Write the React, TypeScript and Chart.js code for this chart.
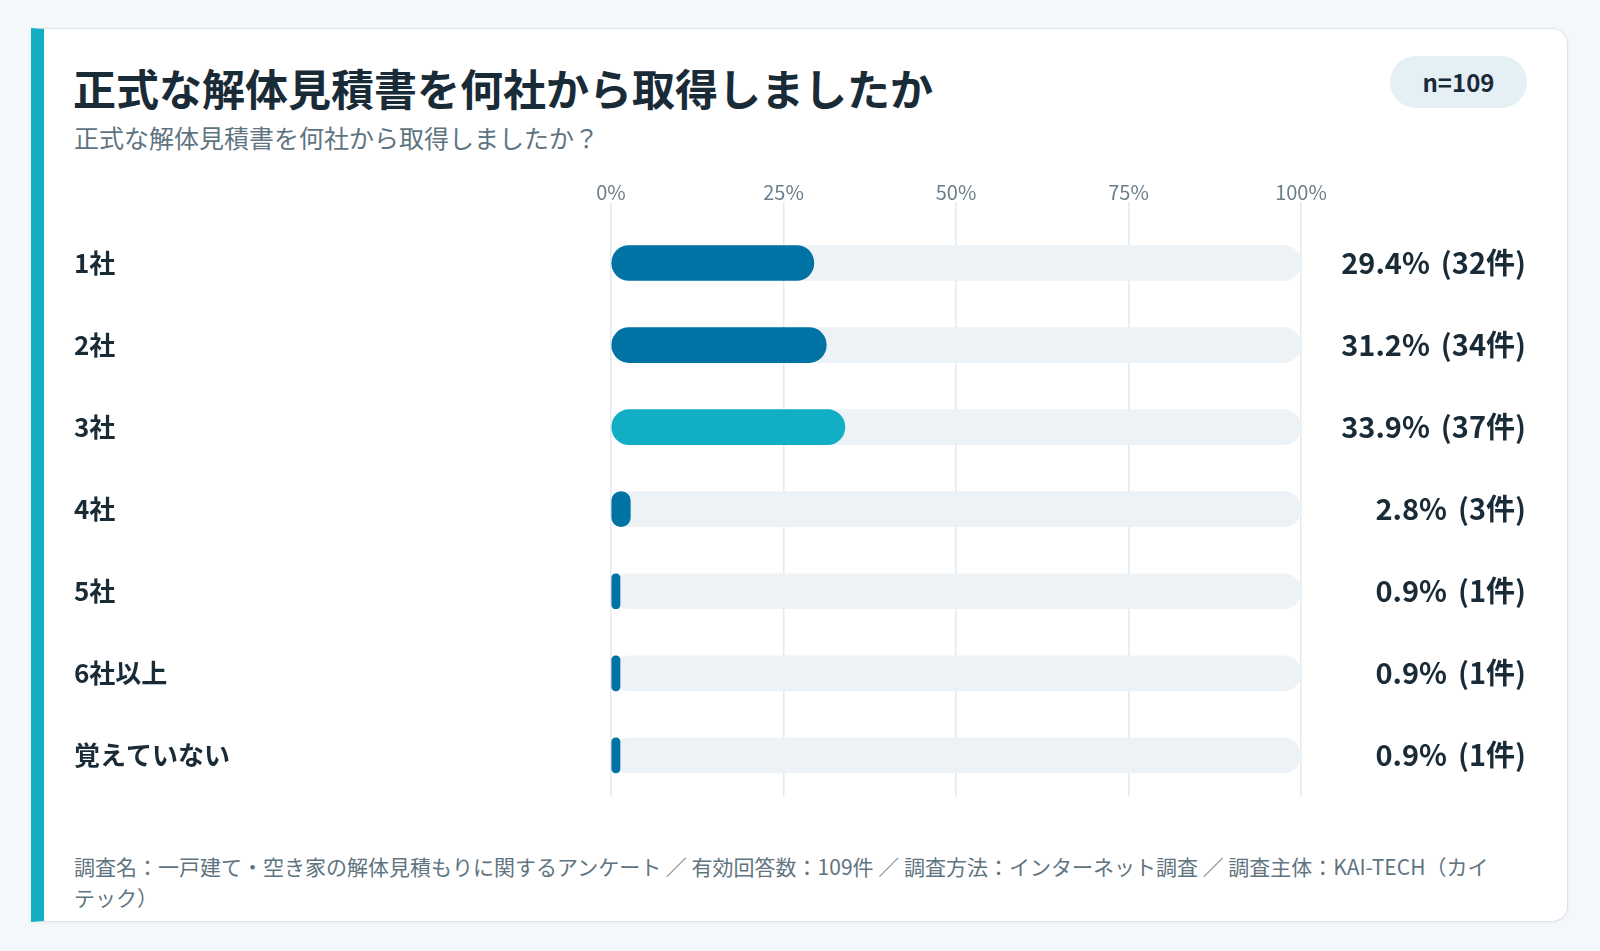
import { useEffect, useRef } from "react";
import { Chart, registerables } from "chart.js";

Chart.register(...registerables);

const categories = ["1社", "2社", "3社", "4社", "5社", "6社以上", "覚えていない"];
const percents = [29.4, 31.2, 33.9, 2.8, 0.9, 0.9, 0.9];
const counts = [32, 34, 37, 3, 1, 1, 1];
const trackValues = [100, 100, 100, 100, 100, 100, 100];
const xTicks = [0, 25, 50, 75, 100];
const total = 109;

const FONT = '"Noto Sans CJK JP", "Noto Sans", sans-serif';
const DARK = "#1a2b38";
const BLUE = "#0072a3";
const TEAL = "#12aec6";

const maxIdx = percents.indexOf(Math.max(...percents));

// draws "29.4%  (32件)" at the right edge of the canvas
const valueLabels = {
  id: "valueLabels",
  afterDatasetsDraw(chart: Chart) {
    const { ctx } = chart;
    const meta = chart.getDatasetMeta(0);
    ctx.save();
    ctx.font = `700 29px ${FONT}`;
    ctx.fillStyle = DARK;
    ctx.textAlign = "right";
    ctx.textBaseline = "middle";
    meta.data.forEach((bar, i) => {
      const countText = `(${counts[i]}件)`;
      ctx.fillText(countText, chart.width - 1, bar.y);
      const w = ctx.measureText(countText).width;
      ctx.fillText(`${percents[i].toFixed(1)}%`, chart.width - 1 - w - 11, bar.y);
    });
    ctx.restore();
  },
};

const BarChart = () => {
  const canvasRef = useRef<HTMLCanvasElement | null>(null);
  const chartRef = useRef<Chart | null>(null);

  useEffect(() => {
    if (chartRef.current) chartRef.current.destroy();
    const ctx = canvasRef.current?.getContext("2d");
    if (!ctx) return;

    chartRef.current = new Chart(ctx, {
      type: "bar",
      data: {
        labels: categories,
        datasets: [
          {
            data: percents,
            backgroundColor: percents.map((_, i) => (i === maxIdx ? TEAL : BLUE)),
            borderRadius: 18,
            borderSkipped: false,
            barThickness: 35,
            minBarLength: 9,
            grouped: false,
          },
          {
            data: trackValues,
            backgroundColor: "#edf2f6",
            borderRadius: 18,
            borderSkipped: false,
            barThickness: 35,
            grouped: false,
          },
        ],
      },
      options: {
        indexAxis: "y",
        animation: false,
        responsive: true,
        maintainAspectRatio: false,
        layout: { padding: { right: 226 } },
        plugins: { legend: { display: false }, tooltip: { enabled: false } },
        scales: {
          x: {
            position: "top",
            min: 0,
            max: 100,
            afterBuildTicks: (scale: any) => {
              scale.ticks = xTicks.map((v) => ({ value: v }));
            },
            ticks: {
              callback: (v: any) => `${v}%`,
              color: "#6b7e8b",
              font: { family: FONT, size: 20, lineHeight: 1 },
              padding: 0,
            },
            grid: { color: "#e3e9ee", lineWidth: 1.5, tickLength: 20 },
            border: { display: false },
          },
          y: {
            afterFit: (scale: any) => {
              scale.width = 537;
            },
            ticks: {
              crossAlign: "far",
              color: DARK,
              font: { family: FONT, size: 26, weight: "bold" },
            },
            grid: { display: false },
            border: { display: false },
          },
        },
      },
      plugins: [valueLabels],
    } as any);

    return () => {
      chartRef.current?.destroy();
      chartRef.current = null;
    };
  }, []);

  return (
    <div style={{ position: "absolute", left: 74, top: 182, width: 1453, height: 633 }}>
      <canvas ref={canvasRef} />
    </div>
  );
};

export default function App() {
  return (
    <div
      style={{
        position: "absolute",
        left: 0,
        top: 0,
        width: 1600,
        height: 951,
        background: "#f4f8fb",
        fontFamily: FONT,
      }}
    >
      <div
        style={{
          position: "absolute",
          left: 31,
          top: 28,
          width: 1537,
          height: 894,
          boxSizing: "border-box",
          background: "#fff",
          border: "1.5px solid #dce5ec",
          borderLeft: `13px solid ${TEAL}`,
          borderRadius: "0 16px 16px 0",
          boxShadow: "0 1px 4px rgba(20,40,60,0.05)",
        }}
      />
      <div
        style={{
          position: "absolute",
          left: 73,
          top: 61,
          fontSize: 43,
          lineHeight: "52px",
          fontWeight: 700,
          color: DARK,
          whiteSpace: "nowrap",
        }}
      >
        正式な解体見積書を何社から取得しましたか
      </div>
      <div
        style={{
          position: "absolute",
          left: 74,
          top: 122,
          fontSize: 25,
          lineHeight: "30px",
          color: "#5f7481",
          whiteSpace: "nowrap",
        }}
      >
        正式な解体見積書を何社から取得しましたか？
      </div>
      <div
        style={{
          position: "absolute",
          left: 1390,
          top: 56,
          width: 137,
          height: 52,
          borderRadius: 26,
          background: "#e5f0f5",
          color: DARK,
          fontSize: 24,
          fontWeight: 700,
          lineHeight: "52px",
          textAlign: "center",
        }}
      >
        n={total}
      </div>
      <BarChart />
      <div
        style={{
          position: "absolute",
          left: 74,
          top: 851,
          width: 1425,
          fontSize: 21,
          lineHeight: "31px",
          color: "#5f7481",
        }}
      >
        調査名：一戸建て・空き家の解体見積もりに関するアンケート ／ 有効回答数：{total}件 ／ 調査方法：インターネット調査 ／ 調査主体：KAI-TECH（カイテック）
      </div>
    </div>
  );
}
